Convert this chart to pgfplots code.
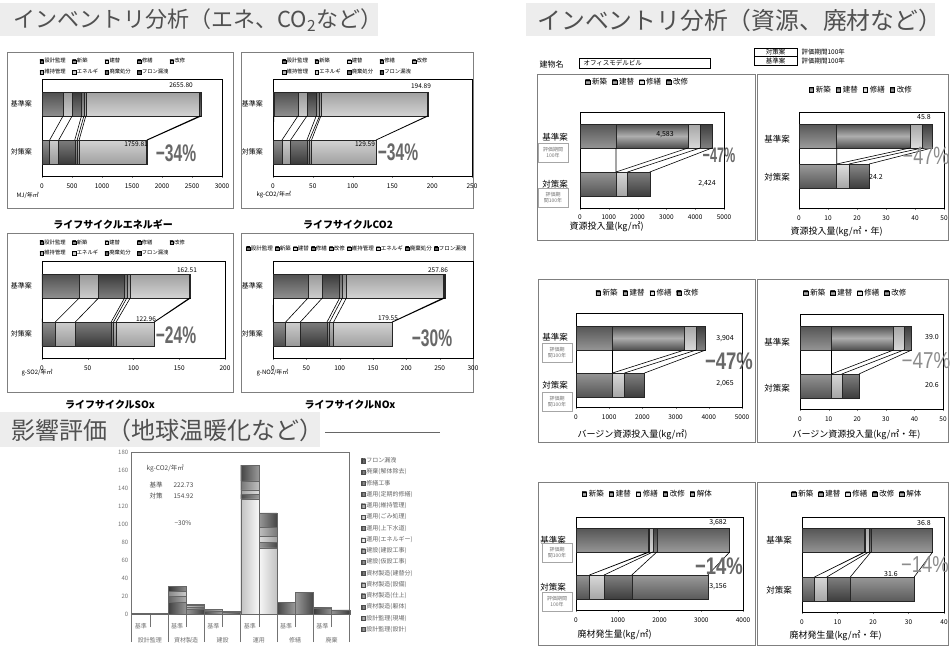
\documentclass[border=0pt]{standalone}
\usepackage{fontspec}
\setmainfont{Noto Sans CJK JP}
\newfontfamily\arialfont{Liberation Sans}
\usepackage{graphicx}
\usepackage{pgfplots}
\usepackage{pgfplotstable}
\pgfplotsset{compat=1.18}

\newcommand\fs[1]{\fontsize{#1}{#1}\selectfont}
\newcommand\pctB[3]{{\arialfont\bfseries\fontsize{#1}{#1}\selectfont\scalebox{#2}[1]{#3}}}
\newcommand\pctL[3]{{\arialfont\fontsize{#1}{#1}\selectfont\scalebox{#2}[1]{#3}}}

\definecolor{banner}{HTML}{EDEDED}
\definecolor{bannertext}{HTML}{505050}
\definecolor{frame}{HTML}{7F7F7F}
\definecolor{pct}{HTML}{686868}
\definecolor{pctlight}{HTML}{8C8C8C}
% life-cycle inventory series
\definecolor{kSekkei}{HTML}{3C3C3C}
\definecolor{kShinchiku}{HTML}{6E6E6E}
\definecolor{kTatekae}{HTML}{D4D4D4}
\definecolor{kShuzen}{HTML}{505050}
\definecolor{kKaishu}{HTML}{8C8C8C}
\definecolor{kIji}{HTML}{B4B4B4}
\definecolor{kEne}{HTML}{DEDEDE}
\definecolor{kHaiki}{HTML}{404040}
\definecolor{kFuron}{HTML}{1E1E1E}
% resource and waste series
\definecolor{rShin}{HTML}{767676}
\definecolor{rTate}{HTML}{6C6C6C}
\definecolor{rShu}{HTML}{E6E6E6}
\definecolor{rKai}{HTML}{555555}
\definecolor{rKaitai}{HTML}{7E7E7E}
% impact assessment series
\definecolor{iS1}{HTML}{6A6A6A}
\definecolor{iS2}{HTML}{8A8A8A}
\definecolor{iS3}{HTML}{505050}
\definecolor{iS4}{HTML}{7A7A7A}
\definecolor{iS5}{HTML}{A8A8A8}
\definecolor{iS6}{HTML}{404040}
\definecolor{iS7}{HTML}{606060}
\definecolor{iS8}{HTML}{888888}
\definecolor{iS9}{HTML}{F2F2F2}
\definecolor{iS10}{HTML}{5A5A5A}
\definecolor{iS11}{HTML}{C8C8C8}
\definecolor{iS12}{HTML}{959595}
\definecolor{iS13}{HTML}{555555}
\definecolor{iS14}{HTML}{575757}
\definecolor{iS15}{HTML}{4A4A4A}
\definecolor{iS16}{HTML}{2A2A2A}

\tikzset{
  hcyl/.style={top color=#1!72!black, bottom color=#1!72!black, middle color=#1!55!white, draw=black!85, line width=0.5pt},
  vcyl/.style={left color=#1!80!black, right color=#1!80!black, middle color=#1!60!white, draw=black!60, line width=0.4pt},
  lnk/.style={black, line width=0.6pt},
}

\pgfplotsset{
  hpanel/.style={
    xbar stacked, scale only axis, anchor=north west,
    bar width=24, ymin=0, xmin=0, enlargelimits=false, clip=false,
    axis line style={black, line width=0.8pt},
    tick align=outside, xtick pos=left, ytick pos=left,
    major tick length=2pt, ytick style={draw=none},
    tick label style={font=\fs{6.5}},
    xticklabel style={yshift=-2pt, /pgf/number format/1000 sep={}},
    /pgf/number format/assume math mode=true,
    scaled x ticks=false,
    legend cell align=left,
  },
  lleg/.style={
    legend style={draw=none, fill=none, font=\fs{5.3}, row sep=3.5pt,
      nodes={inner xsep=0.8pt, inner ysep=0.6pt}},
    legend image code/.code={\draw[##1, draw=black, line width=0.3pt] (0pt,-1.8pt) rectangle (3.6pt,1.8pt);},
  },
  rleg/.style={
    legend style={draw=none, fill=none, font=\fs{7.5},
      /tikz/every even column/.append style={column sep=3pt}},
    legend image code/.code={\draw[##1, draw=black, line width=0.4pt] (0pt,-2.3pt) rectangle (4.6pt,2.3pt);},
  },
  ovl/.style={scale only axis, anchor=north west, hide axis, ymin=0, xmin=0, enlargelimits=false, clip=false},
}

% Global warming impact by life-cycle stage (kg-CO2 per m2 and year)
% columns: bar position, then the sixteen stacked items from bottom to top
\pgfplotstableread{
x   s1   s2   s3 s4 s5  s6 s7  s8  s9    s10 s11 s12 s13  s14  s15 s16
0   0.5  0.3  0  0  0   0  0   0   0     0   0   0   0    0    0   0
1   0.25 0.15 0  0  0   0  0   0   0     0   0   0   0    0    0   0
2   0    0    13 7  5   6  0   0   0     0   0   0   0    0    0   0
3   0    0    5  3  1.4 1  0   0   0     0   0   0   0    0    0   0
4   0    0    0  0  0   0  3   2   0     0   0   0   0    0    0   0
5   0    0    0  0  0   0  1.7 1.2 0     0   0   0   0    0    0   0
6   0    0    0  0  0   0  0   0   128   5   5   10  17.5 0    0   0
7   0    0    0  0  0   0  0   0   73.5  6   7   10  15.8 0    0   0
8   0    0    0  0  0   0  0   0   0     0   0   0   0    12.7 0   0
9   0    0    0  0  0   0  0   0   0     0   0   0   0    24.2 0   0
10  0    0    0  0  0   0  0   0   0     0   0   0   0    0    7.0 0.73
11  0    0    0  0  0   0  0   0   0     0   0   0   0    0    4.3 0.42
}\impact

\begin{document}
\begin{tikzpicture}
\useasboundingbox (0pt,0pt) rectangle (950pt,-648pt);
\fill[white] (0pt,0pt) rectangle (950pt,-648pt);

% ---------- section banners ----------
\fill[banner] (0pt,-3pt) rectangle (378pt,-36pt);
\node[anchor=west, font=\fs{22}, text=bannertext] at (10pt,-20pt) {インベントリ分析（エネ、CO\textsubscript{2}など）};
\fill[banner] (526pt,-3pt) rectangle (935pt,-36pt);
\node[anchor=west, font=\fs{23.8}, text=bannertext] at (534pt,-20pt) {インベントリ分析（資源、廃材など）};
\fill[banner] (0pt,-412pt) rectangle (320pt,-447pt);
\node[anchor=west, font=\fs{24}, text=bannertext] at (8pt,-430pt) {影響評価（地球温暖化など）};
\draw[black!60, line width=0.8pt] (325pt,-432pt) -- (440pt,-432pt);

% ---------- panel frames ----------
\draw[frame, line width=1pt] (7pt,-52pt) rectangle (233pt,-208pt);
\draw[frame, line width=1pt] (241pt,-52pt) rectangle (473pt,-208pt);
\draw[frame, line width=1pt] (7pt,-233pt) rectangle (233pt,-392pt);
\draw[frame, line width=1pt] (241pt,-233pt) rectangle (473pt,-392pt);
\draw[frame, line width=1pt] (537pt,-74pt) rectangle (755pt,-240pt);
\draw[frame, line width=1pt] (757pt,-74pt) rectangle (948pt,-240pt);
\draw[frame, line width=1pt] (538pt,-279pt) rectangle (755pt,-442pt);
\draw[frame, line width=1pt] (757pt,-279pt) rectangle (948pt,-442pt);
\draw[frame, line width=1pt] (538pt,-482pt) rectangle (755pt,-645pt);
\draw[frame, line width=1pt] (757pt,-482pt) rectangle (948pt,-645pt);

% ================= life-cycle energy =================
\begin{axis}[hpanel, lleg, at={(42pt,-79pt)}, width=180pt, height=97pt, ymax=97, xmax=3000,
  xtick={0,500,...,3000}, ytick={24,72}, yticklabels={対策案,基準案},
  yticklabel style={font=\fs{7}, xshift=-4.5pt},
  legend columns=5, legend style={at={(-0.03,1.24)}, anchor=north west, nodes={text width=27pt}}]
\addplot[hcyl=kSekkei]    coordinates {(5,24) (10,72)};
\addplot[hcyl=kShinchiku] coordinates {(123,24) (341,72)};
\addplot[hcyl=kTatekae]   coordinates {(151,24) (151,72)};
\addplot[hcyl=kShuzen]    coordinates {(267,24) (156,72)};
\addplot[hcyl=kKaishu]    coordinates {(40,24) (40,72)};
\addplot[hcyl=kIji]       coordinates {(33,24) (32,72)};
\addplot[hcyl=kEne]       coordinates {(1125,24) (1896,72)};
\addplot[hcyl=kHaiki]     coordinates {(13,24) (25,72)};
\addplot[hcyl=kFuron]     coordinates {(2.81,24) (4.8,72)};
\legend{設計監理,新築,建替,修繕,改修,維持管理,エネルギ,廃棄処分,フロン漏洩}
\end{axis}
\begin{axis}[ovl, at={(42pt,-79pt)}, width=180pt, height=97pt, ymax=97, xmax=3000]
\addplot[lnk, unbounded coords=jump] coordinates {
  (10,60) (5,36) (nan,nan) (351,60) (128,36) (nan,nan) (502,60) (279,36) (nan,nan)
  (658,60) (546,36) (nan,nan) (698,60) (586,36) (nan,nan) (730,60) (619,36) (nan,nan)
  (2626,60) (1744,36) (nan,nan) (2651,60) (1757,36) (nan,nan) (2655.8,60) (1759.81,36)};
\end{axis}

% ================= life-cycle CO2 =================
\begin{axis}[hpanel, lleg, at={(273pt,-79pt)}, width=199pt, height=97pt, ymax=97, xmax=250,
  xtick={0,50,...,250}, ytick={24,72}, yticklabels={対策案,基準案},
  yticklabel style={font=\fs{7}, xshift=-4.5pt},
  legend columns=5, legend style={at={(0.03,1.24)}, anchor=north west, nodes={text width=27pt}}]
\addplot[hcyl=kSekkei]    coordinates {(0.5,24) (1,72)};
\addplot[hcyl=kShinchiku] coordinates {(10.8,24) (30.3,72)};
\addplot[hcyl=kTatekae]   coordinates {(10.8,24) (11.3,72)};
\addplot[hcyl=kShuzen]    coordinates {(20.5,24) (11.7,72)};
\addplot[hcyl=kKaishu]    coordinates {(3.0,24) (4.1,72)};
\addplot[hcyl=kIji]       coordinates {(2.8,24) (1.7,72)};
\addplot[hcyl=kEne]       coordinates {(80.9,24) (133.6,72)};
\addplot[hcyl=kHaiki]     coordinates {(0.2,24) (1.0,72)};
\addplot[hcyl=kFuron]     coordinates {(0.09,24) (0.19,72)};
\legend{設計監理,新築,建替,修繕,改修,維持管理,エネルギ,廃棄処分,フロン漏洩}
\end{axis}
\begin{axis}[ovl, at={(273pt,-79pt)}, width=199pt, height=97pt, ymax=97, xmax=250]
\addplot[lnk, unbounded coords=jump] coordinates {
  (1,60) (0.5,36) (nan,nan) (31.3,60) (11.3,36) (nan,nan) (42.6,60) (22.1,36) (nan,nan)
  (54.3,60) (42.6,36) (nan,nan) (58.4,60) (45.6,36) (nan,nan) (60.1,60) (48.4,36) (nan,nan)
  (193.7,60) (129.3,36) (nan,nan) (194.7,60) (129.5,36) (nan,nan) (194.89,60) (129.59,36)};
\end{axis}

% ================= life-cycle SOx =================
\begin{axis}[hpanel, lleg, at={(42pt,-261pt)}, width=183pt, height=97pt, ymax=97, xmax=200,
  xtick={0,50,...,200}, ytick={24,72}, yticklabels={対策案,基準案},
  yticklabel style={font=\fs{7}, xshift=-4.5pt},
  legend columns=5, legend style={at={(-0.03,1.25)}, anchor=north west, nodes={text width=27pt}}]
\addplot[hcyl=kSekkei]    coordinates {(0.3,24) (0.5,72)};
\addplot[hcyl=kShinchiku] coordinates {(14.2,24) (40.2,72)};
\addplot[hcyl=kTatekae]   coordinates {(21.9,24) (21.1,72)};
\addplot[hcyl=kShuzen]    coordinates {(39.2,24) (28.4,72)};
\addplot[hcyl=kKaishu]    coordinates {(2.5,24) (2.5,72)};
\addplot[hcyl=kIji]       coordinates {(3.0,24) (3.7,72)};
\addplot[hcyl=kEne]       coordinates {(41.4,24) (64.7,72)};
\addplot[hcyl=kHaiki]     coordinates {(0.4,24) (1.2,72)};
\addplot[hcyl=kFuron]     coordinates {(0.06,24) (0.21,72)};
\legend{設計監理,新築,建替,修繕,改修,維持管理,エネルギ,廃棄処分,フロン漏洩}
\end{axis}
\begin{axis}[ovl, at={(42pt,-261pt)}, width=183pt, height=97pt, ymax=97, xmax=200]
\addplot[lnk, unbounded coords=jump] coordinates {
  (0.5,60) (0.3,36) (nan,nan) (40.7,60) (14.5,36) (nan,nan) (61.8,60) (36.4,36) (nan,nan)
  (90.2,60) (75.6,36) (nan,nan) (92.7,60) (78.1,36) (nan,nan) (96.4,60) (81.1,36) (nan,nan)
  (161.1,60) (122.5,36) (nan,nan) (162.3,60) (122.9,36) (nan,nan) (162.51,60) (122.96,36)};
\end{axis}

% ================= life-cycle NOx =================
\begin{axis}[hpanel, lleg, at={(273pt,-261pt)}, width=200pt, height=97pt, ymax=97, xmax=300,
  xtick={0,50,...,300}, ytick={24,72}, yticklabels={対策案,基準案},
  yticklabel style={font=\fs{7}, xshift=-4.5pt},
  legend columns=9, legend style={at={(-0.15,1.19)}, anchor=north west, font=\fs{5.5},
    /tikz/every even column/.append style={column sep=1.5pt}}]
\addplot[hcyl=kSekkei]    coordinates {(0.3,24) (0.5,72)};
\addplot[hcyl=kShinchiku] coordinates {(18.7,24) (52,72)};
\addplot[hcyl=kTatekae]   coordinates {(22,24) (21.5,72)};
\addplot[hcyl=kShuzen]    coordinates {(40,24) (26,72)};
\addplot[hcyl=kKaishu]    coordinates {(4,24) (4,72)};
\addplot[hcyl=kIji]       coordinates {(6,24) (6,72)};
\addplot[hcyl=kEne]       coordinates {(87.5,24) (145,72)};
\addplot[hcyl=kHaiki]     coordinates {(1.0,24) (2.5,72)};
\addplot[hcyl=kFuron]     coordinates {(0.05,24) (0.36,72)};
\legend{設計監理,新築,建替,修繕,改修,維持管理,エネルギ,廃棄処分,フロン漏洩}
\end{axis}
\begin{axis}[ovl, at={(273pt,-261pt)}, width=200pt, height=97pt, ymax=97, xmax=300]
\addplot[lnk, unbounded coords=jump] coordinates {
  (0.5,60) (0.3,36) (nan,nan) (52.5,60) (19,36) (nan,nan) (74,60) (41,36) (nan,nan)
  (100,60) (81,36) (nan,nan) (104,60) (85,36) (nan,nan) (110,60) (91,36) (nan,nan)
  (255,60) (178.5,36) (nan,nan) (257.5,60) (179.5,36) (nan,nan) (257.86,60) (179.55,36)};
\end{axis}

% labels of the four inventory panels
\begin{scope}[font=\fs{6.5}]
\node at (181pt,-85pt) {2655.80};
\node at (136pt,-144pt) {1759.81};
\node at (421pt,-86pt) {194.89};
\node at (365pt,-144pt) {129.59};
\node at (187pt,-270pt) {162.51};
\node at (146pt,-319pt) {122.96};
\node at (438pt,-270pt) {257.86};
\node at (388pt,-318pt) {179.55};
\end{scope}
\node[text=pct] at (176pt,-153pt) {\pctB{24}{0.65}{−34\%}};
\node[text=pct] at (398pt,-152pt) {\pctB{24}{0.65}{−34\%}};
\node[text=pct] at (176pt,-335pt) {\pctB{24}{0.65}{−24\%}};
\node[text=pct] at (432pt,-338pt) {\pctB{24}{0.65}{−30\%}};
\begin{scope}[font=\fs{6}]
\node[anchor=west] at (13pt,-195pt) {MJ/年㎡};
\node[anchor=west] at (253pt,-195pt) {kg-CO2/年㎡};
\node[anchor=west] at (18pt,-373pt) {g-SO2/年㎡};
\node[anchor=west] at (253pt,-373pt) {g-NO2/年㎡};
\end{scope}
\begin{scope}[font=\fs{10}\bfseries]
\node at (113pt,-225pt) {ライフサイクルエネルギー};
\node at (348pt,-225pt) {ライフサイクルCO2};
\node at (110pt,-405pt) {ライフサイクルSOx};
\node at (350pt,-405pt) {ライフサイクルNOx};
\end{scope}

% ================= resource input per m2 =================
\begin{axis}[hpanel, rleg, at={(580pt,-112pt)}, width=144pt, height=96pt, ymax=96, xmax=5000,
  xtick={0,1000,...,5000}, ytick=\empty, legend columns=4,
  xticklabel style={yshift=0.5pt},
  legend style={at={(0.40,1.31)}, anchor=center}]
\addplot[hcyl=rShin] coordinates {(1250,24) (1250,72)};
\addplot[hcyl=rTate] coordinates {(0,24) (2500,72)};
\addplot[hcyl=rShu]  coordinates {(400,24) (420,72)};
\addplot[hcyl=rKai]  coordinates {(774,24) (413,72)};
\legend{新築,建替,修繕,改修}
\end{axis}
\begin{axis}[ovl, at={(580pt,-112pt)}, width=144pt, height=96pt, ymax=96, xmax=5000]
\addplot[lnk, unbounded coords=jump] coordinates {
  (1250,60) (1250,36) (nan,nan) (3750,60) (1250,36) (nan,nan) (4170,60) (1650,36) (nan,nan) (4583,60) (2424,36)};
\end{axis}

% ================= resource input per m2 and year =================
\begin{axis}[hpanel, rleg, at={(799pt,-112pt)}, width=145pt, height=96pt, ymax=96, xmax=50,
  xtick={0,10,...,50}, ytick=\empty, legend columns=4,
  legend style={at={(0.43,1.23)}, anchor=center}]
\addplot[hcyl=rShin] coordinates {(13.0,32) (13.0,72)};
\addplot[hcyl=rTate] coordinates {(0,32) (25.2,72)};
\addplot[hcyl=rShu]  coordinates {(4.2,32) (4.2,72)};
\addplot[hcyl=rKai]  coordinates {(7.0,32) (3.4,72)};
\legend{新築,建替,修繕,改修}
\end{axis}
\begin{axis}[ovl, at={(799pt,-112pt)}, width=145pt, height=96pt, ymax=96, xmax=50]
\addplot[lnk, unbounded coords=jump] coordinates {
  (13.0,60) (13.0,44) (nan,nan) (38.2,60) (13.0,44) (nan,nan) (42.4,60) (17.2,44) (nan,nan) (45.8,60) (24.2,44)};
\end{axis}

% ================= virgin resource input per m2 =================
\begin{axis}[hpanel, rleg, at={(576pt,-313pt)}, width=166pt, height=94pt, ymax=94, xmax=5000,
  xtick={0,1000,...,5000}, ytick=\empty, legend columns=4,
  legend style={at={(0.434,1.21)}, anchor=center}]
\addplot[hcyl=rShin] coordinates {(1100,22) (1100,69)};
\addplot[hcyl=rTate] coordinates {(0,22) (2170,69)};
\addplot[hcyl=rShu]  coordinates {(360,22) (350,69)};
\addplot[hcyl=rKai]  coordinates {(605,22) (284,69)};
\legend{新築,建替,修繕,改修}
\end{axis}
\begin{axis}[ovl, at={(576pt,-313pt)}, width=166pt, height=94pt, ymax=94, xmax=5000]
\addplot[lnk, unbounded coords=jump] coordinates {
  (1100,57) (1100,34) (nan,nan) (3270,57) (1100,34) (nan,nan) (3620,57) (1460,34) (nan,nan) (3904,57) (2065,34)};
\end{axis}

% ================= virgin resource input per m2 and year =================
\begin{axis}[hpanel, rleg, at={(800pt,-314pt)}, width=143pt, height=95pt, ymax=95, xmax=50,
  xtick={0,10,...,50}, ytick=\empty, legend columns=4,
  legend style={at={(0.39,1.22)}, anchor=center}]
\addplot[hcyl=rShin] coordinates {(11.0,23) (11.0,71)};
\addplot[hcyl=rTate] coordinates {(0,23) (21.7,71)};
\addplot[hcyl=rShu]  coordinates {(3.6,23) (3.6,71)};
\addplot[hcyl=rKai]  coordinates {(6.0,23) (2.7,71)};
\legend{新築,建替,修繕,改修}
\end{axis}
\begin{axis}[ovl, at={(800pt,-314pt)}, width=143pt, height=95pt, ymax=95, xmax=50]
\addplot[lnk, unbounded coords=jump] coordinates {
  (11.0,59) (11.0,35) (nan,nan) (32.7,59) (11.0,35) (nan,nan) (36.3,59) (14.6,35) (nan,nan) (39.0,59) (20.6,35)};
\end{axis}

% ================= waste generation per m2 =================
\begin{axis}[hpanel, rleg, at={(576pt,-517pt)}, width=167pt, height=93pt, ymax=93, xmax=4000,
  xtick={0,1000,...,4000}, ytick=\empty, legend columns=5,
  legend style={at={(0.43,1.247)}, anchor=center}]
\addplot[hcyl=rShin]   coordinates {(320,23) (1736,70)};
\addplot[hcyl=rTate]   coordinates {(0,23) (24,70)};
\addplot[hcyl=rShu]    coordinates {(352,23) (80,70)};
\addplot[hcyl=rKai]    coordinates {(664,23) (96,70)};
\addplot[hcyl=rKaitai] coordinates {(1820,23) (1746,70)};
\legend{新築,建替,修繕,改修,解体}
\end{axis}
\begin{axis}[ovl, at={(576pt,-517pt)}, width=167pt, height=93pt, ymax=93, xmax=4000]
\addplot[lnk, unbounded coords=jump] coordinates {
  (1736,58) (320,35) (nan,nan) (1760,58) (320,35) (nan,nan) (1840,58) (672,35) (nan,nan)
  (1936,58) (1336,35) (nan,nan) (3682,58) (3156,35)};
\end{axis}

% ================= waste generation per m2 and year =================
\begin{axis}[hpanel, rleg, at={(802pt,-517pt)}, width=142pt, height=95pt, ymax=95, xmax=40,
  xtick={0,10,...,40}, ytick=\empty, legend columns=5,
  legend style={at={(0.39,1.24)}, anchor=center}]
\addplot[hcyl=rShin]   coordinates {(3.5,23) (17.6,72)};
\addplot[hcyl=rTate]   coordinates {(0,23) (0.2,72)};
\addplot[hcyl=rShu]    coordinates {(3.5,23) (1.0,72)};
\addplot[hcyl=rKai]    coordinates {(6.6,23) (0.6,72)};
\addplot[hcyl=rKaitai] coordinates {(18.0,23) (17.4,72)};
\legend{新築,建替,修繕,改修,解体}
\end{axis}
\begin{axis}[ovl, at={(802pt,-517pt)}, width=142pt, height=95pt, ymax=95, xmax=40]
\addplot[lnk, unbounded coords=jump] coordinates {
  (17.6,60) (3.5,35) (nan,nan) (17.8,60) (3.5,35) (nan,nan) (18.8,60) (7.0,35) (nan,nan)
  (19.4,60) (13.6,35) (nan,nan) (36.8,60) (31.6,35)};
\end{axis}

% header of the resource side
\node[anchor=west, font=\fs{8}] at (536pt,-64pt) {建物名};
\draw[black, line width=0.6pt] (579pt,-58pt) rectangle (710pt,-68pt);
\node[anchor=west, font=\fs{6.5}] at (580pt,-63pt) {オフィスモデルビル};
\draw[black, line width=0.6pt] (754pt,-48pt) rectangle (797pt,-65pt);
\draw[black, line width=0.6pt] (754pt,-56.5pt) -- (797pt,-56.5pt);
\begin{scope}[font=\fs{6.5}]
\node at (775.5pt,-52.2pt) {対策案};
\node at (775.5pt,-60.8pt) {基準案};
\node[anchor=west] at (798pt,-52.2pt) {評価期間100年};
\node[anchor=west] at (798pt,-60.8pt) {評価期間100年};
\end{scope}

% category names and evaluation-period tags
\begin{scope}[font=\fs{8.5}]
\node at (555pt,-137pt) {基準案};
\node at (555pt,-184pt) {対策案};
\node at (777pt,-139pt) {基準案};
\node at (777pt,-177pt) {対策案};
\node at (555pt,-337pt) {基準案};
\node at (555pt,-385pt) {対策案};
\node at (777pt,-342pt) {基準案};
\node at (777pt,-388pt) {対策案};
\node at (553pt,-540pt) {基準案};
\node at (553pt,-587pt) {対策案};
\node at (779pt,-540pt) {基準案};
\node at (779pt,-590pt) {対策案};
\end{scope}
\begin{scope}[every node/.style={draw=black!35, text=black!55, font=\fontsize{5}{6}\selectfont, align=center, inner sep=0.8pt, minimum width=30pt, minimum height=19pt}]
\node at (553pt,-153pt) {評価期間\\100年};
\node at (553pt,-198pt) {評価期\\間100年};
\node at (557pt,-353pt) {評価期\\間100年};
\node at (557pt,-402pt) {評価期\\間100年};
\node at (557pt,-553pt) {評価期\\間100年};
\node at (557pt,-602pt) {評価期間\\100年};
\end{scope}

% values and reductions
\begin{scope}[font=\fs{7}]
\node at (665pt,-135pt) {4,583};
\node at (707pt,-184pt) {2,424};
\node at (924pt,-117pt) {45.8};
\node at (876pt,-177pt) {24.2};
\node at (725pt,-339pt) {3,904};
\node at (725pt,-384pt) {2,065};
\node at (932pt,-337pt) {39.0};
\node at (932pt,-385pt) {20.6};
\node at (718pt,-523pt) {3,682};
\node at (718pt,-587pt) {3,156};
\node at (924pt,-523pt) {36.8};
\node at (891pt,-574pt) {31.6};
\end{scope}
\node[text=pct] at (719pt,-155pt) {\pctB{21}{0.6}{−47\%}};
\node[text=pctlight] at (926pt,-156pt) {\pctL{25}{0.72}{−47\%}};
\node[text=pct] at (729pt,-361pt) {\pctB{24}{0.77}{−47\%}};
\node[text=pctlight] at (926pt,-361pt) {\pctL{23}{0.82}{−47\%}};
\node[text=pct] at (719pt,-566pt) {\pctB{24}{0.77}{−14\%}};
\node[text=pctlight] at (925pt,-565pt) {\pctL{23}{0.8}{−14\%}};

% axis titles
\begin{scope}[font=\fs{9}]
\node[anchor=west] at (566pt,-227pt) {資源投入量(kg/㎡)};
\node[anchor=west] at (787pt,-232pt) {資源投入量(kg/㎡・年)};
\node[anchor=west] at (574pt,-435pt) {バージン資源投入量(kg/㎡)};
\node[anchor=west] at (789pt,-435pt) {バージン資源投入量(kg/㎡・年)};
\node[anchor=west] at (574pt,-635pt) {廃材発生量(kg/㎡)};
\node[anchor=west] at (786pt,-636pt) {廃材発生量(kg/㎡・年)};
\end{scope}

% ================= global warming impact =================
\begin{axis}[ybar stacked, scale only axis, anchor=north west, at={(131.7pt,-452pt)},
  width=218pt, height=162pt, ymin=0, ymax=180, xmin=-0.5, xmax=11.5, enlargelimits=false,
  bar width=1, clip=false,
  axis line style={black!55, line width=0.6pt},
  ytick={0,20,...,180}, ytick style={draw=none},
  /pgf/number format/assume math mode=true,
  tick label style={font=\fs{6}, text=black!55},
  xtick={0.5,2.5,4.5,6.5,8.5,10.5},
  xticklabels={設計監理,資材製造,建設,運用,修繕,廃棄},
  xticklabel style={yshift=-20pt},
  tick align=outside, xtick pos=left,
  major tick length=0pt, minor tick length=13pt,
  minor xtick={-0.5,0.5,...,11.5},
  extra x ticks={-0.5,1.5,3.5,5.5,7.5,9.5,11.5}, extra x tick labels={},
  extra x tick style={major tick length=28pt},
  every tick/.style={black!55, line width=0.5pt},
  reverse legend, legend cell align=left,
  legend style={at={(1.038,0.985)}, anchor=north west, draw=none, fill=none,
    font=\fs{6}, text=black!60, row sep=2.7pt, nodes={inner sep=1pt}},
  legend image code/.code={\draw[#1, draw=black!70, line width=0.3pt] (0pt,-2pt) rectangle (4pt,2pt);},
]
\addplot[vcyl=iS1]  table[x=x, y=s1]  {\impact};
\addplot[vcyl=iS2]  table[x=x, y=s2]  {\impact};
\addplot[vcyl=iS3]  table[x=x, y=s3]  {\impact};
\addplot[vcyl=iS4]  table[x=x, y=s4]  {\impact};
\addplot[vcyl=iS5]  table[x=x, y=s5]  {\impact};
\addplot[vcyl=iS6]  table[x=x, y=s6]  {\impact};
\addplot[vcyl=iS7]  table[x=x, y=s7]  {\impact};
\addplot[vcyl=iS8]  table[x=x, y=s8]  {\impact};
\addplot[vcyl=iS9]  table[x=x, y=s9]  {\impact};
\addplot[vcyl=iS10] table[x=x, y=s10] {\impact};
\addplot[vcyl=iS11] table[x=x, y=s11] {\impact};
\addplot[vcyl=iS12] table[x=x, y=s12] {\impact};
\addplot[vcyl=iS13] table[x=x, y=s13] {\impact};
\addplot[vcyl=iS14] table[x=x, y=s14] {\impact};
\addplot[vcyl=iS15] table[x=x, y=s15] {\impact};
\addplot[vcyl=iS16] table[x=x, y=s16] {\impact};
\legend{設計監理(設計),設計監理(現場),資材製造(躯体),資材製造(仕上),資材製造(設備),資材製造(建替分),建設(仮設工事),建設(建設工事),運用(エネルギー),運用(上下水道),運用(ごみ処理),運用(維持管理),運用(定期的修繕),修繕工事,廃棄(解体除去),フロン漏洩}
\pgfplotsinvokeforeach{0,2,4,6,8,10}{
  \node[font=\fs{6}, text=black!55] at (axis cs:#1,0) [yshift=-12pt] {基準};
}
\end{axis}
\begin{scope}[font=\fs{6.5}, text=black!70]
\node[anchor=west] at (143pt,-468pt) {kg-CO2/年㎡};
\node[anchor=west] at (146pt,-485pt) {基準};
\node[anchor=west] at (170pt,-485pt) {222.73};
\node[anchor=west] at (146pt,-496pt) {対策};
\node[anchor=west] at (170pt,-496pt) {154.92};
\node[anchor=west] at (171pt,-523pt) {−30\%};
\end{scope}
\end{tikzpicture}
\end{document}
